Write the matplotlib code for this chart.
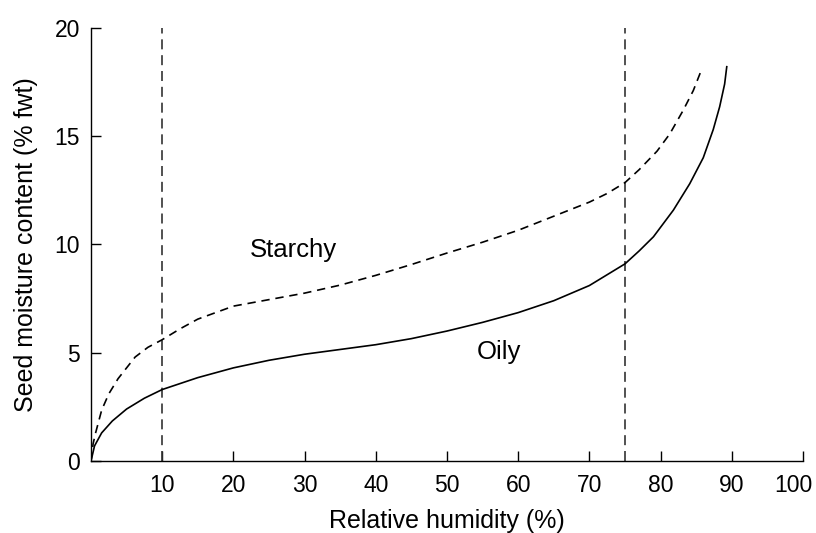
import matplotlib
matplotlib.use("Agg")
import matplotlib.pyplot as plt
import matplotlib.transforms as mtransforms

# values
oily_x = [0, 0.5, 1.5, 3, 5, 7.5, 10, 15, 20, 25, 30, 35, 40, 45, 50, 55,
          60, 65, 70, 75, 77, 79, 81.8, 84.1, 86, 87.4, 88.3, 89, 89.3]
oily_y = [0, 0.7, 1.3, 1.85, 2.4, 2.9, 3.3, 3.85, 4.3, 4.65, 4.93, 5.15, 5.37,
          5.65, 6.0, 6.4, 6.85, 7.4, 8.1, 9.1, 9.7, 10.35, 11.58, 12.8, 14.0,
          15.3, 16.35, 17.4, 18.2]
starchy_x = [0, 0.3, 0.65, 1.5, 2.5, 3.8, 5, 6.2, 8, 10, 12.5, 15, 20, 25, 30,
             35, 40, 45, 50, 55, 60, 65, 70, 72.5, 75, 77, 79.5, 81.3, 83.2,
             84.6, 85.8]
starchy_y = [0, 0.8, 1.3, 2.35, 3.1, 3.8, 4.3, 4.8, 5.25, 5.6, 6.1, 6.55, 7.15,
             7.45, 7.75, 8.12, 8.57, 9.07, 9.6, 10.1, 10.65, 11.3, 11.95, 12.35,
             12.85, 13.45, 14.3, 15.1, 16.2, 17.1, 18.1]
marker_rh = [10, 75]
x_ticks = [10, 20, 30, 40, 50, 60, 70, 80, 90, 100]
y_ticks = [0, 5, 10, 15, 20]

plt.rcParams["font.family"] = ["Liberation Sans", "DejaVu Sans"]

fig = plt.figure(figsize=(8.16, 5.33), dpi=100)
ax = fig.add_axes([0.1115, 0.135, 0.8725, 0.813])

for x in marker_rh:
    ax.plot([x, x], [0, 20], color="#333333", lw=1.2, ls=(0, (6, 3.5)))
ax.plot(starchy_x, starchy_y, color="black", lw=1.2, ls=(0, (5, 3.5)))
ax.plot(oily_x, oily_y, color="black", lw=1.2)

ax.text(28.4, 9.75, "Starchy", ha="center", va="center", fontsize=18.5)
ax.text(57.3, 5.05, "Oily", ha="center", va="center", fontsize=18.5)

ax.set_xlim(0, 100)
ax.set_ylim(0, 20)
ax.set_xticks(x_ticks)
ax.set_yticks(y_ticks)
ax.tick_params(direction="in", length=7.5, width=1, labelsize=16.5, pad=9)
ax.tick_params(axis="y", pad=8)
for s in ("top", "right"):
    ax.spines[s].set_visible(False)
for s in ("left", "bottom"):
    ax.spines[s].set_linewidth(1)
ax.set_xlabel("Relative humidity (%)", fontsize=18, labelpad=9)
ax.set_ylabel("Seed moisture content (% fwt)", fontsize=18, labelpad=12)

# the last x label sits a little left of its tick, as in the original
last = ax.get_xticklabels()[-1]
last.set_transform(last.get_transform() +
                   mtransforms.ScaledTranslation(-7 / 72, 0, fig.dpi_scale_trans))

fig.savefig("out.png", dpi=100)
